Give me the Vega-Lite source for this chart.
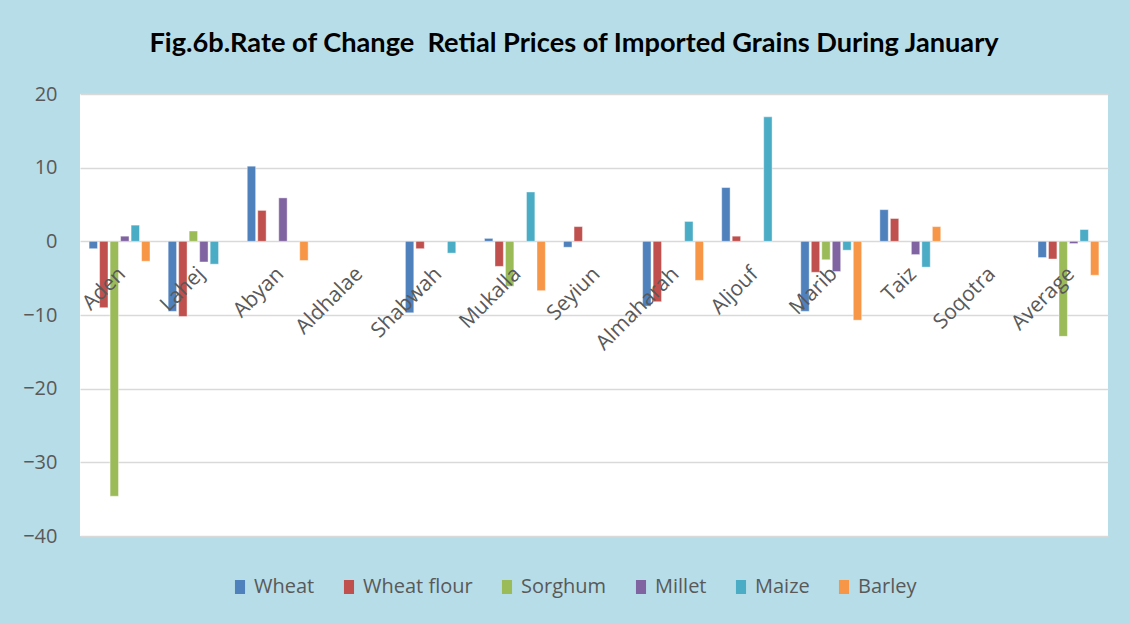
{
  "$schema": "https://vega.github.io/schema/vega-lite/v6.json",
  "width": 1028,
  "height": 442,
  "autosize": {"type": "none"},
  "padding": {"left": 80, "top": 94, "right": 22, "bottom": 88},
  "background": "#b7dde8",
  "config": {"view": {"fill": "white", "stroke": null}, "font": "Open Sans"},
  "title": {
    "text": "Fig.6b.Rate of Change \u00a0Retial Prices of Imported Grains During January",
    "font": "Lato",
    "fontWeight": "bold",
    "fontSize": 27.2,
    "color": "#000000",
    "anchor": "middle",
    "frame": "group",
    "dx": -20,
    "offset": 5,
    "baseline": "alphabetic"
  },
  "layer": [
    {
      "data": {
        "values": [
          {"region": "Aden", "grain": "Wheat", "value": -1.0},
          {"region": "Aden", "grain": "Wheat flour", "value": -9.0},
          {"region": "Aden", "grain": "Sorghum", "value": -34.6},
          {"region": "Aden", "grain": "Millet", "value": 0.7},
          {"region": "Aden", "grain": "Maize", "value": 2.2},
          {"region": "Aden", "grain": "Barley", "value": -2.7},
          {"region": "Lahej", "grain": "Wheat", "value": -9.5},
          {"region": "Lahej", "grain": "Wheat flour", "value": -10.2},
          {"region": "Lahej", "grain": "Sorghum", "value": 1.4},
          {"region": "Lahej", "grain": "Millet", "value": -2.8},
          {"region": "Lahej", "grain": "Maize", "value": -3.1},
          {"region": "Abyan", "grain": "Wheat", "value": 10.2},
          {"region": "Abyan", "grain": "Wheat flour", "value": 4.2},
          {"region": "Abyan", "grain": "Millet", "value": 5.9},
          {"region": "Abyan", "grain": "Barley", "value": -2.6},
          {"region": "Shabwah", "grain": "Wheat", "value": -9.7},
          {"region": "Shabwah", "grain": "Wheat flour", "value": -1.0},
          {"region": "Shabwah", "grain": "Maize", "value": -1.6},
          {"region": "Mukalla", "grain": "Wheat", "value": 0.4},
          {"region": "Mukalla", "grain": "Wheat flour", "value": -3.4},
          {"region": "Mukalla", "grain": "Sorghum", "value": -6.1},
          {"region": "Mukalla", "grain": "Maize", "value": 6.7},
          {"region": "Mukalla", "grain": "Barley", "value": -6.7},
          {"region": "Seyiun", "grain": "Wheat", "value": -0.8},
          {"region": "Seyiun", "grain": "Wheat flour", "value": 2.0},
          {"region": "Almaharah", "grain": "Wheat", "value": -8.8},
          {"region": "Almaharah", "grain": "Wheat flour", "value": -8.2},
          {"region": "Almaharah", "grain": "Maize", "value": 2.7},
          {"region": "Almaharah", "grain": "Barley", "value": -5.3},
          {"region": "Aljouf", "grain": "Wheat", "value": 7.3},
          {"region": "Aljouf", "grain": "Wheat flour", "value": 0.7},
          {"region": "Aljouf", "grain": "Maize", "value": 16.9},
          {"region": "Marib", "grain": "Wheat", "value": -9.5},
          {"region": "Marib", "grain": "Wheat flour", "value": -4.2},
          {"region": "Marib", "grain": "Sorghum", "value": -2.5},
          {"region": "Marib", "grain": "Millet", "value": -4.1},
          {"region": "Marib", "grain": "Maize", "value": -1.2},
          {"region": "Marib", "grain": "Barley", "value": -10.7},
          {"region": "Taiz", "grain": "Wheat", "value": 4.3},
          {"region": "Taiz", "grain": "Wheat flour", "value": 3.1},
          {"region": "Taiz", "grain": "Millet", "value": -1.8},
          {"region": "Taiz", "grain": "Maize", "value": -3.5},
          {"region": "Taiz", "grain": "Barley", "value": 2.0},
          {"region": "Average", "grain": "Wheat", "value": -2.2},
          {"region": "Average", "grain": "Wheat flour", "value": -2.4},
          {"region": "Average", "grain": "Sorghum", "value": -12.9},
          {"region": "Average", "grain": "Millet", "value": -0.3},
          {"region": "Average", "grain": "Maize", "value": 1.6},
          {"region": "Average", "grain": "Barley", "value": -4.6}
        ]
      },
      "mark": {"type": "bar", "stroke": "white", "strokeWidth": 0.6, "strokeOpacity": 0.7},
      "encoding": {
        "x": {
          "field": "region",
          "type": "nominal",
          "sort": null,
          "scale": {
            "domain": ["Aden", "Lahej", "Abyan", "Aldhalae", "Shabwah", "Mukalla", "Seyiun", "Almaharah", "Aljouf", "Marib", "Taiz", "Soqotra", "Average"],
            "paddingInner": 0.23,
            "paddingOuter": 0.115
          },
          "axis": null
        },
        "xOffset": {
          "field": "grain",
          "type": "nominal",
          "scale": {
            "domain": ["Wheat", "Wheat flour", "Sorghum", "Millet", "Maize", "Barley"],
            "paddingInner": 0.2,
            "paddingOuter": 0
          }
        },
        "y": {
          "field": "value",
          "type": "quantitative",
          "scale": {"domain": [-40, 20], "nice": false},
          "axis": {
            "title": null,
            "values": [-40, -30, -20, -10, 0, 10, 20],
            "grid": true,
            "gridColor": "#d9d9d9",
            "gridWidth": 1.5,
            "domain": false,
            "ticks": false,
            "labelPadding": 23,
            "labelFontSize": 20,
            "labelColor": "#595959",
            "labelFont": "Open Sans"
          }
        },
        "color": {
          "field": "grain",
          "type": "nominal",
          "scale": {
            "domain": ["Wheat", "Wheat flour", "Sorghum", "Millet", "Maize", "Barley"],
            "range": ["#4f81bd", "#c0504d", "#9bbb59", "#8064a2", "#4bacc6", "#f79646"]
          },
          "legend": {
            "orient": "none",
            "legendX": 150,
            "legendY": 483,
            "direction": "horizontal",
            "columns": 6,
            "title": null,
            "labelFont": "Open Sans",
            "labelFontSize": 20,
            "labelColor": "#595959",
            "symbolType": "M-0.72,-1L0.72,-1L0.72,1L-0.72,1Z",
            "symbolSize": 196,
            "symbolStrokeWidth": 0,
            "symbolOpacity": 1,
            "columnPadding": 24,
            "labelOffset": 4
          }
        }
      }
    },
    {
      "data": {
        "values": [
          {"region": "Aden"}, {"region": "Lahej"}, {"region": "Abyan"}, {"region": "Aldhalae"},
          {"region": "Shabwah"}, {"region": "Mukalla"}, {"region": "Seyiun"}, {"region": "Almaharah"},
          {"region": "Aljouf"}, {"region": "Marib"}, {"region": "Taiz"}, {"region": "Soqotra"}, {"region": "Average"}
        ]
      },
      "mark": {"type": "text", "angle": -45, "align": "right", "baseline": "middle", "font": "Open Sans", "fontSize": 21, "color": "#595959", "dx": -19, "dy": 23},
      "encoding": {
        "x": {"field": "region", "type": "nominal", "sort": null},
        "y": {"datum": 0},
        "text": {"field": "region"}
      }
    }
  ]
}
